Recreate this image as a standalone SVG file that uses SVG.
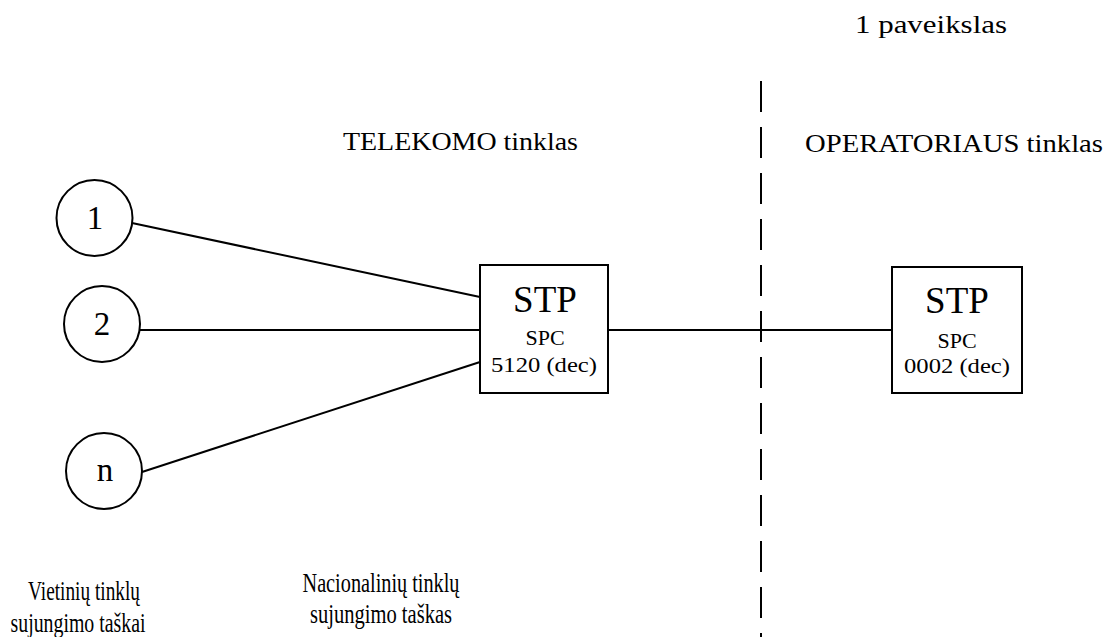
<svg xmlns="http://www.w3.org/2000/svg" width="1109" height="637" viewBox="0 0 1109 637">
<style>
text{font-family:"Liberation Serif","Times New Roman",serif;fill:#000;}
.node{fill:#fff;stroke:#000;stroke-width:2;}
.conn line{stroke:#000;stroke-width:2;}
.div{stroke:#000;stroke-width:2;stroke-dasharray:31 15;}
.lbl{font-size:26px;}
.num{font-size:33px;text-anchor:middle;}
.stp{font-size:37px;text-anchor:middle;}
.spc{font-size:22px;text-anchor:middle;}
.bot{font-size:28px;text-anchor:middle;}
</style>
<rect width="1109" height="637" fill="#fff"/>
<text class="lbl" x="855" y="33" textLength="152" lengthAdjust="spacingAndGlyphs">1 paveikslas</text>
<line class="div" x1="761" y1="81" x2="761" y2="637"/>
<text class="lbl" x="343" y="150" textLength="235" lengthAdjust="spacingAndGlyphs">TELEKOMO tinklas</text>
<text class="lbl" x="805" y="152" textLength="298" lengthAdjust="spacingAndGlyphs">OPERATORIAUS tinklas</text>
<g class="conn" id="connectors">
<line x1="132" y1="223" x2="480" y2="297"/>
<line x1="140" y1="330" x2="480" y2="330"/>
<line x1="142" y1="472" x2="480" y2="362"/>
<line x1="608" y1="330" x2="892" y2="330"/>
</g>
<g id="node-1"><circle class="node" cx="94.5" cy="218" r="38"/><text class="num" x="95" y="229">1</text></g>
<g id="node-2"><circle class="node" cx="102" cy="324" r="38"/><text class="num" x="102" y="335">2</text></g>
<g id="node-n"><circle class="node" cx="104" cy="471" r="38"/><text class="num" x="105" y="481">n</text></g>
<g id="stp-telekom"><rect class="node" x="480" y="265" width="128" height="128"/>
<text class="stp" x="545" y="312">STP</text>
<text class="spc" x="545" y="345">SPC</text>
<text class="spc" x="544" y="372" textLength="106" lengthAdjust="spacingAndGlyphs">5120 (dec)</text></g>
<g id="stp-operator"><rect class="node" x="892" y="267" width="130" height="126"/>
<text class="stp" x="957" y="313">STP</text>
<text class="spc" x="957" y="348">SPC</text>
<text class="spc" x="957" y="373" textLength="106" lengthAdjust="spacingAndGlyphs">0002 (dec)</text></g>
<text class="bot" x="84" y="600" textLength="112" lengthAdjust="spacingAndGlyphs">Vietinių tinklų</text>
<text class="bot" x="78" y="632" textLength="135" lengthAdjust="spacingAndGlyphs">sujungimo taškai</text>
<text class="bot" x="381" y="592" textLength="157" lengthAdjust="spacingAndGlyphs">Nacionalinių tinklų</text>
<text class="bot" x="381" y="623" textLength="142" lengthAdjust="spacingAndGlyphs">sujungimo taškas</text>
</svg>
